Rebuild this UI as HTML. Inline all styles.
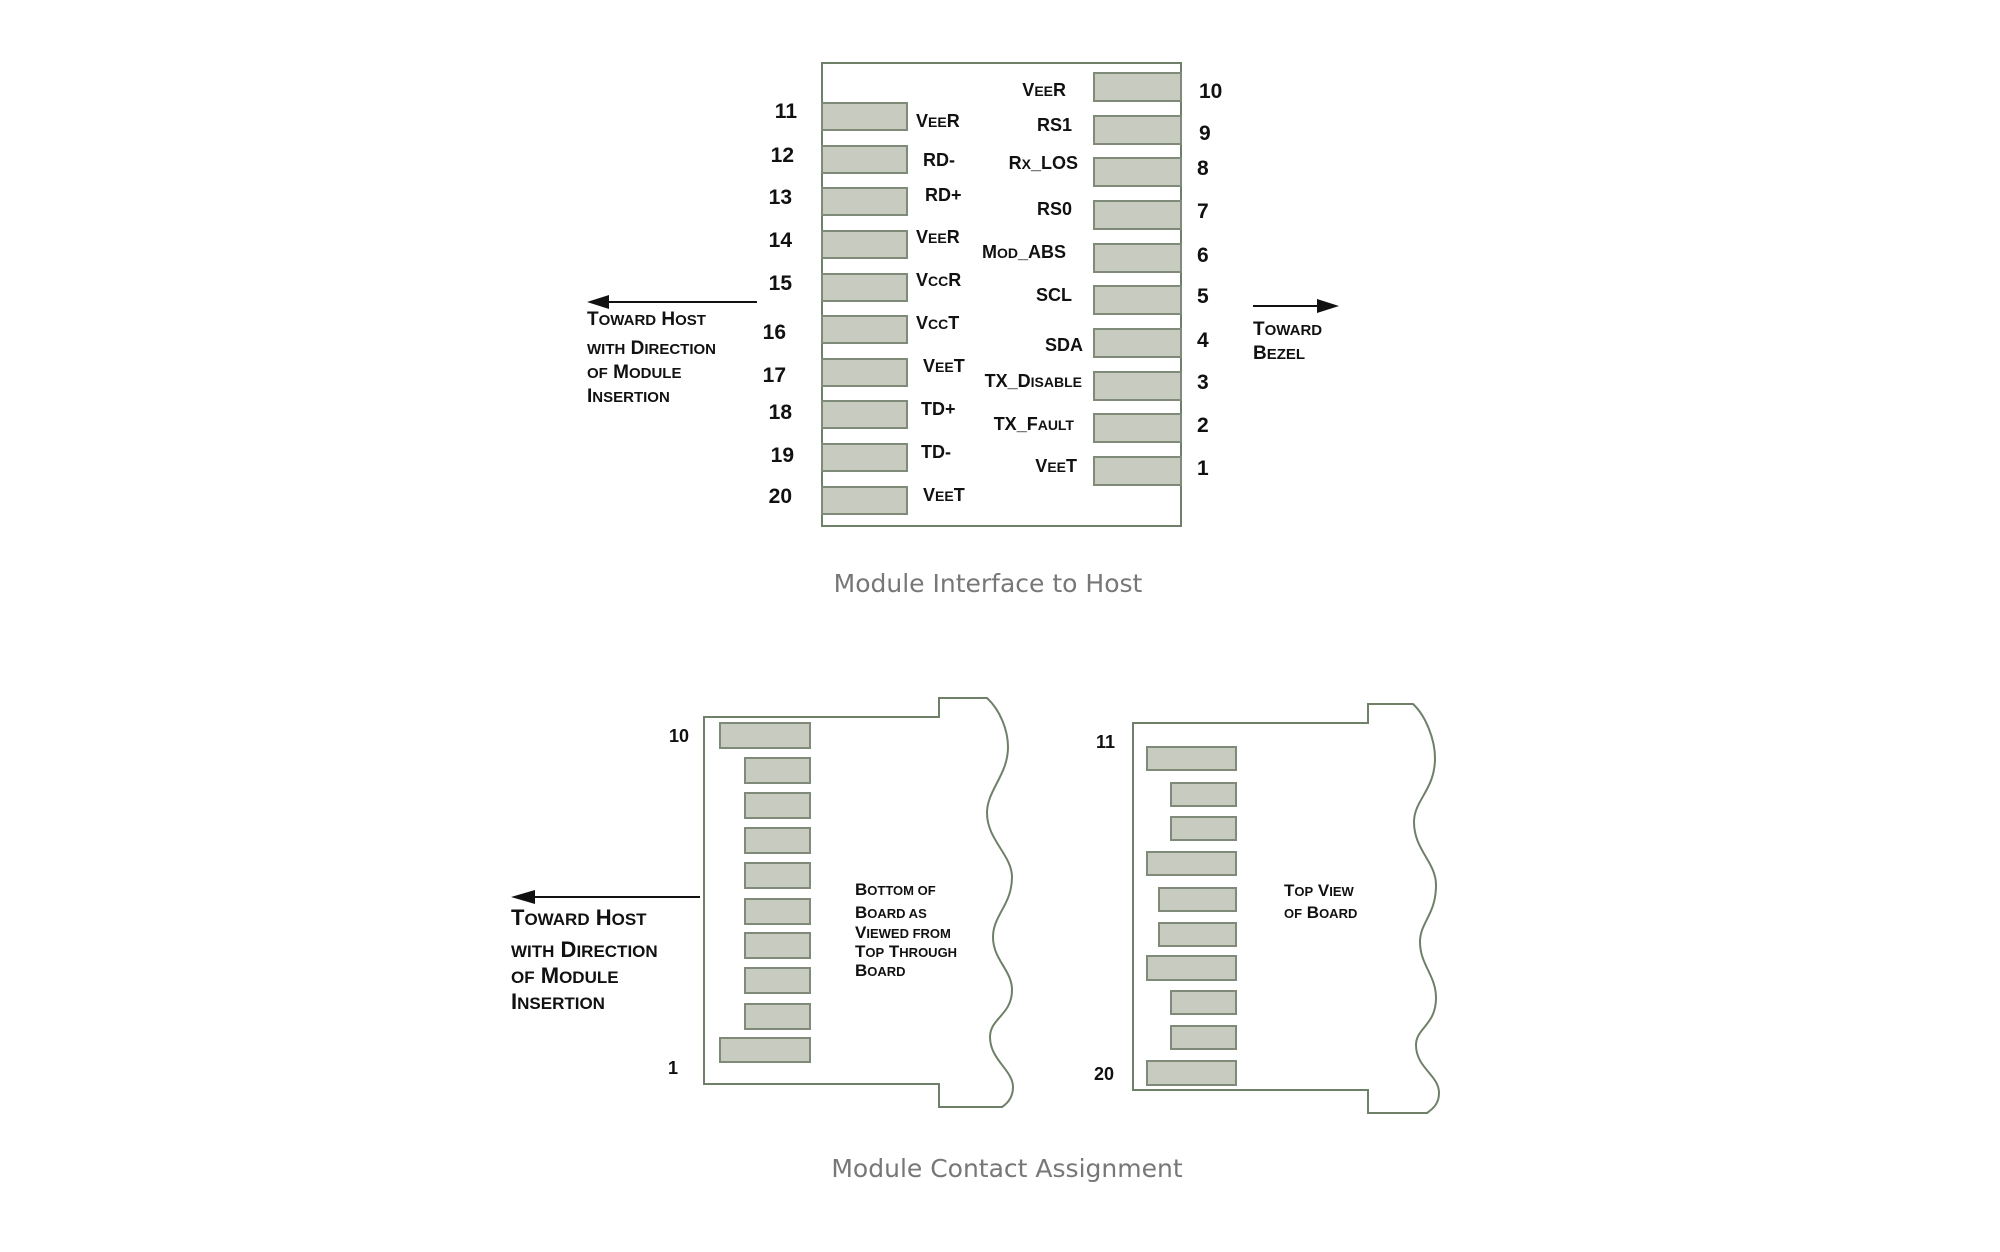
<!DOCTYPE html>
<html><head><meta charset="utf-8"><style>
html,body{margin:0;padding:0;background:#fff;}
svg{display:block;}
.n{font-family:"Liberation Sans",sans-serif;font-weight:bold;font-size:21px;fill:#111;}
.l{font-family:"Liberation Sans",sans-serif;font-weight:bold;font-size:18px;fill:#111;}
.l tspan{font-size:14px;}
.a{font-family:"Liberation Sans",sans-serif;font-weight:bold;font-size:19px;fill:#111;}
.a tspan{font-size:15px;}
.a2{font-family:"Liberation Sans",sans-serif;font-weight:bold;font-size:22px;fill:#111;}
.a2 tspan{font-size:17px;}
.a3{font-family:"Liberation Sans",sans-serif;font-weight:bold;font-size:17px;fill:#111;}
.a3 tspan{font-size:13px;}
.c{font-family:"DejaVu Sans","Liberation Sans",sans-serif;font-size:25px;fill:#777;}
.p{fill:#c8cbbf;stroke:#7f8a78;stroke-width:2;}
.b{fill:none;stroke:#6f8068;stroke-width:2;}
</style></head><body>
<svg width="2000" height="1252" viewBox="0 0 2000 1252" xmlns="http://www.w3.org/2000/svg">
<!-- top diagram -->
<rect x="822" y="63" width="359" height="463" class="b" stroke="#8a9a88"/>
<g class="p">
<rect x="822" y="103" width="85" height="27"/><rect x="822" y="146" width="85" height="27"/><rect x="822" y="188" width="85" height="27"/><rect x="822" y="231" width="85" height="27"/><rect x="822" y="274" width="85" height="27"/><rect x="822" y="316" width="85" height="27"/><rect x="822" y="359" width="85" height="27"/><rect x="822" y="401" width="85" height="27"/><rect x="822" y="444" width="85" height="27"/><rect x="822" y="487" width="85" height="27"/>
<rect x="1094" y="73" width="87" height="28"/><rect x="1094" y="116" width="87" height="28"/><rect x="1094" y="158" width="87" height="28"/><rect x="1094" y="201" width="87" height="28"/><rect x="1094" y="244" width="87" height="28"/><rect x="1094" y="286" width="87" height="28"/><rect x="1094" y="329" width="87" height="28"/><rect x="1094" y="372" width="87" height="28"/><rect x="1094" y="414" width="87" height="28"/><rect x="1094" y="457" width="87" height="28"/>
</g>
<g class="n" text-anchor="end">
<text x="797" y="118">11</text><text x="794" y="162">12</text><text x="792" y="204">13</text><text x="792" y="247">14</text><text x="792" y="290">15</text><text x="786" y="339">16</text><text x="786" y="382">17</text><text x="792" y="419">18</text><text x="794" y="462">19</text><text x="792" y="503">20</text>
</g>
<g class="n">
<text x="1199" y="98">10</text><text x="1199" y="140">9</text><text x="1197" y="175">8</text><text x="1197" y="218">7</text><text x="1197" y="262">6</text><text x="1197" y="303">5</text><text x="1197" y="347">4</text><text x="1197" y="389">3</text><text x="1197" y="432">2</text><text x="1197" y="475">1</text>
</g>
<g class="l">
<text x="916" y="127">V<tspan>EE</tspan>R</text><text x="923" y="166">RD-</text><text x="925" y="201">RD+</text><text x="916" y="243">V<tspan>EE</tspan>R</text><text x="916" y="286">V<tspan>CC</tspan>R</text><text x="916" y="329">V<tspan>CC</tspan>T</text><text x="923" y="372">V<tspan>EE</tspan>T</text><text x="921" y="415">TD+</text><text x="921" y="458">TD-</text><text x="923" y="501">V<tspan>EE</tspan>T</text>
</g>
<g class="l" text-anchor="end">
<text x="1066" y="96">V<tspan>EE</tspan>R</text><text x="1072" y="131">RS1</text><text x="1078" y="169">R<tspan>X</tspan>_LOS</text><text x="1072" y="215">RS0</text><text x="1066" y="258">M<tspan>OD</tspan>_ABS</text><text x="1072" y="301">SCL</text><text x="1083" y="351">SDA</text><text x="1082" y="387">TX_D<tspan>ISABLE</tspan></text><text x="1074" y="430">TX_F<tspan>AULT</tspan></text><text x="1077" y="472">V<tspan>EE</tspan>T</text>
</g>
<line x1="757" y1="302" x2="600" y2="302" stroke="#111" stroke-width="2"/>
<polygon points="587,302 609,295 609,309" fill="#111"/>
<g class="a"><text x="587" y="325">T<tspan>OWARD</tspan> H<tspan>OST</tspan></text><text x="587" y="354"><tspan>WITH</tspan> D<tspan>IRECTION</tspan></text><text x="587" y="378"><tspan>OF</tspan> M<tspan>ODULE</tspan></text><text x="587" y="402">I<tspan>NSERTION</tspan></text></g>
<line x1="1253" y1="306" x2="1322" y2="306" stroke="#111" stroke-width="2"/>
<polygon points="1339,306 1317,299 1317,313" fill="#111"/>
<g class="a"><text x="1253" y="335">T<tspan>OWARD</tspan></text><text x="1253" y="359">B<tspan>EZEL</tspan></text></g>
<text x="988" y="592" class="c" text-anchor="middle">Module Interface to Host</text>

<!-- bottom left board -->
<path class="b" d="M704,717 L939,717 L939,698 L987,698 C1000,710 1008,730 1008,747 C1008,775 987,790 987,813 C987,840 1012,855 1012,877 C1012,905 993,915 993,937 C993,960 1012,970 1012,990 C1012,1015 990,1018 990,1037 C990,1060 1013,1070 1013,1087 C1013,1097 1008,1103 1002,1107 L939,1107 L939,1084 L704,1084 Z"/>
<g class="p">
<rect x="720" y="723" width="90" height="25"/><rect x="745" y="758" width="65" height="25"/><rect x="745" y="793" width="65" height="25"/><rect x="745" y="828" width="65" height="25"/><rect x="745" y="863" width="65" height="25"/><rect x="745" y="899" width="65" height="25"/><rect x="745" y="933" width="65" height="25"/><rect x="745" y="968" width="65" height="25"/><rect x="745" y="1004" width="65" height="25"/><rect x="720" y="1038" width="90" height="24"/>
</g>
<text x="669" y="742" class="n" style="font-size:18px">10</text>
<text x="668" y="1074" class="n" style="font-size:18px">1</text>
<line x1="700" y1="897" x2="525" y2="897" stroke="#111" stroke-width="2"/>
<polygon points="511,897 535,890 535,904" fill="#111"/>
<g class="a2"><text x="511" y="925">T<tspan>OWARD</tspan> H<tspan>OST</tspan></text><text x="511" y="957"><tspan>WITH</tspan> D<tspan>IRECTION</tspan></text><text x="511" y="983"><tspan>OF</tspan> M<tspan>ODULE</tspan></text><text x="511" y="1009">I<tspan>NSERTION</tspan></text></g>
<g class="a3"><text x="855" y="895">B<tspan>OTTOM OF</tspan></text><text x="855" y="918">B<tspan>OARD AS</tspan></text><text x="855" y="938">V<tspan>IEWED FROM</tspan></text><text x="855" y="957">T<tspan>OP</tspan> T<tspan>HROUGH</tspan></text><text x="855" y="976">B<tspan>OARD</tspan></text></g>

<!-- bottom right board -->
<path class="b" stroke="#8a9a88" d="M1133,723 L1368,723 L1368,704 L1413,704 C1426,716 1435,740 1435,758 C1435,790 1414,800 1414,822 C1414,850 1436,862 1436,885 C1436,915 1420,922 1420,942 C1420,965 1436,975 1436,998 C1436,1025 1416,1028 1416,1045 C1416,1068 1439,1075 1439,1093 C1439,1103 1434,1108 1427,1113 L1368,1113 L1368,1090 L1133,1090 Z"/>
<g class="p">
<rect x="1147" y="747" width="89" height="23"/><rect x="1171" y="783" width="65" height="23"/><rect x="1171" y="817" width="65" height="23"/><rect x="1147" y="852" width="89" height="23"/><rect x="1159" y="888" width="77" height="23"/><rect x="1159" y="923" width="77" height="23"/><rect x="1147" y="956" width="89" height="24"/><rect x="1171" y="991" width="65" height="23"/><rect x="1171" y="1026" width="65" height="23"/><rect x="1147" y="1061" width="89" height="24"/>
</g>
<text x="1096" y="748" class="n" style="font-size:18px">11</text>
<text x="1094" y="1080" class="n" style="font-size:18px">20</text>
<g class="a3"><text x="1284" y="896">T<tspan>OP</tspan> V<tspan>IEW</tspan></text><text x="1284" y="918"><tspan>OF</tspan> B<tspan>OARD</tspan></text></g>
<text x="1007" y="1177" class="c" text-anchor="middle">Module Contact Assignment</text>
</svg>
</body></html>
